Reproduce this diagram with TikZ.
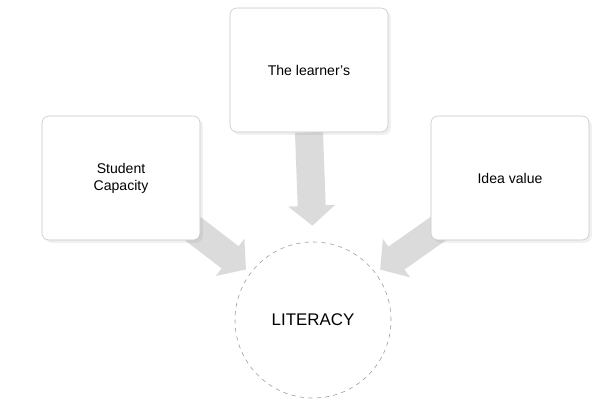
\documentclass[tikz,border=0pt]{standalone}
\usepackage{fontspec}
\setmainfont{Liberation Sans}
\usetikzlibrary{positioning, arrows.meta, shadows, backgrounds}

\begin{document}
\begin{tikzpicture}[x=0.025cm,y=-0.025cm,>=latex,
    factor/.style={draw=gray!45, fill=white, rounded corners=5pt,
        minimum width=3.95cm, minimum height=3.1cm, align=center,
        font=\normalsize, drop shadow={opacity=0.12, shadow xshift=2pt, shadow yshift=-2pt}},
    hubnode/.style={circle, draw=gray!80, dashed, fill=white,
        minimum size=3.9cm, font=\large},
    flow/.style={-{Triangle[length=0.5cm, width=1.15cm]}, line width=0.7cm, gray!28}]
        \useasboundingbox (0,0) rectangle (594,402);

        % the three boxes
        \node[factor] (learner) at (309,70) {The learner's};
        \node[factor] (student) at (121,178) {Student\\Capacity};
        \node[factor] (idea) at (510,178) {Idea value};

        % the centre
        \node[hubnode] (hub) at (313,320) {LITERACY};

        % block arrows behind
        \begin{scope}[on background layer]
        \draw[flow, shorten >=0.4cm] (learner.south) -- (hub.north);
        \draw[flow, shorten >=4pt] ([xshift=-0.2cm,yshift=0.3cm]student.south east) -- (hub.143);
        \draw[flow, shorten >=4pt] ([xshift=0.2cm,yshift=0.3cm]idea.south west) -- (hub.37);
        \end{scope}
    \end{tikzpicture}
\end{document}
